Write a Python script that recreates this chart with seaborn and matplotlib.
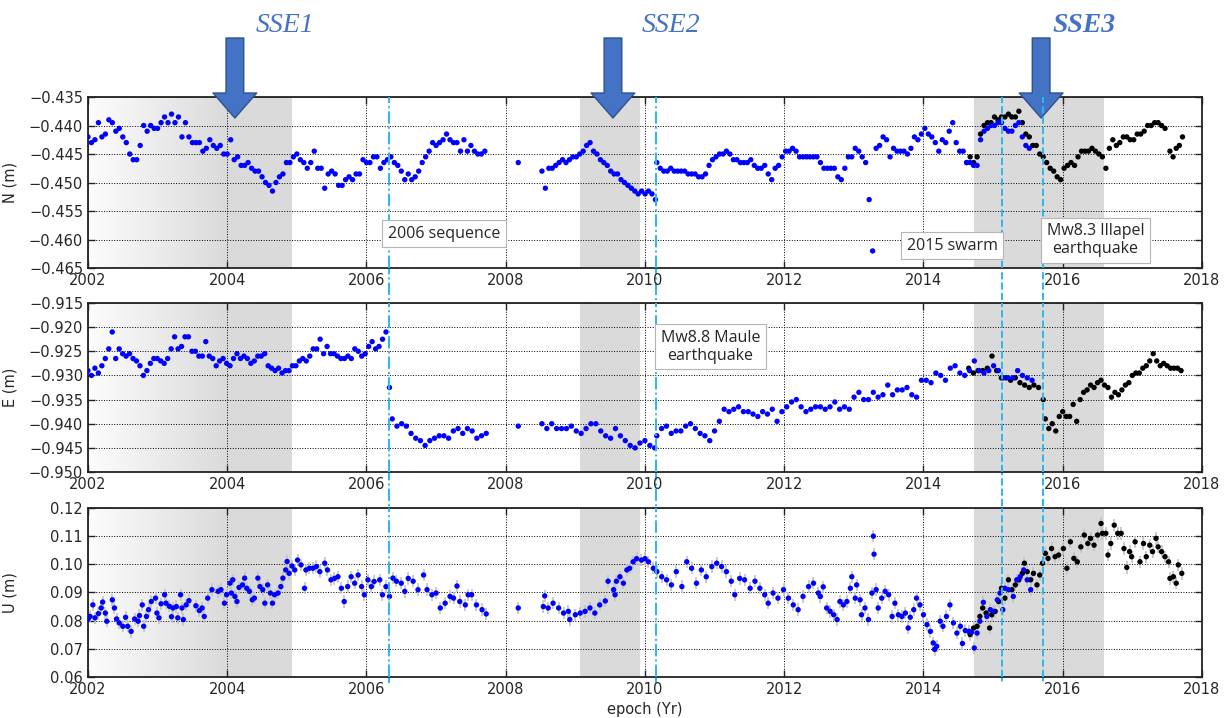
import numpy as np
import pandas as pd
import matplotlib
matplotlib.use("Agg")
import matplotlib.pyplot as plt
import matplotlib.transforms as mtransforms
from matplotlib.lines import Line2D
from matplotlib.colors import LinearSegmentedColormap
from matplotlib.ticker import FuncFormatter
import seaborn as sns

# ---- North component (mm), weekly-ish sampling ----
# segments: (first epoch, last epoch, values)
n_blue_a_span = (2002.00, 2007.70)
n_blue_a = [
    -442, -443, -442.5, -439.5, -442, -441.5, -439, -439.5, -441, -440.5,
    -442, -443, -445, -446, -446, -443.5, -440, -441, -440, -440.5,
    -440.5, -439.5, -438.5, -439.5, -438, -439.5, -438.5, -442, -439.5, -442,
    -443, -443, -443, -444.5, -444, -442.5, -443.5, -444, -443.5, -445,
    -445, -442.5, -446, -445.5, -447, -447, -446.5, -447.5, -448, -448,
    -449, -450, -450.5, -451.5, -450, -449, -448.5, -446.5, -446.5, -445.5,
    -445, -446, -446.5, -447.5, -446.5, -444.5, -447.5, -447.5, -451, -448.5,
    -448, -448.5, -450.5, -450.5, -449.5, -449, -449.5, -448.5, -448.5, -446,
    -446.5, -446.5, -445.5, -445.5, -447.5, -446.5, -446, -445.5, -446.5, -447,
    -448, -449.5, -448.5, -449.5, -449, -448, -446.5, -445.5, -444.5, -443,
    -443.5, -443, -442.5, -441.5, -442.5, -443, -443, -444.5, -442.5, -444.5,
    -443.5, -444.5, -445, -445, -444.5]
n_blue_b_span = (2008.18, 2008.18)
n_blue_b = [-446.5]
n_blue_c_span = (2008.52, 2010.15)
n_blue_c = [
    -448, -451, -447.5, -447.5, -447, -446.5, -446, -446.5, -446, -445.5,
    -445.5, -445, -444.5, -443.5, -443, -444.5, -445, -446, -446.5, -447,
    -448, -448.5, -448.5, -449.5, -450, -450.5, -451, -451.5, -452, -451.5,
    -452, -451.5, -452, -453]
n_blue_d_span = (2010.17, 2015.52)
n_blue_d = [
    -446.5, -447.5, -448, -448, -447.5, -448, -448, -448, -448, -448.5,
    -448.5, -448.5, -449, -449, -448.5, -447, -446, -445.5, -445, -445,
    -444.5, -445, -446, -446, -446.5, -446.5, -446.5, -446, -447, -447.5,
    -447.5, -447, -448.5, -449.5, -447.5, -447, -445.5, -444.5, -444.5, -444,
    -444.5, -445.5, -445.5, -445.5, -445.5, -445.5, -445.5, -446.5, -447.5, -447.5,
    -447.5, -447.5, -449, -449.5, -447.5, -445.5, -445.5, -444, -444.5, -445.5,
    -446.5, -453, -462, -444, -443.5, -442, -442.5, -445.5, -444, -444.5,
    -444.5, -444.5, -445, -444, -442, -442.5, -441.5, -440.5, -441.5, -442,
    -443, -444.5, -442.5, -443, -441, -439.5, -443, -444.5, -444.5, -446.5,
    -446.5, -447, -447, -442.5, -441, -440.5, -440, -440, -439.5, -439.5,
    -440.5, -441, -441, -440, -439.5, -442, -443.5, -444]
n_black_a_span = (2014.62, 2017.47)
n_black_a = [
    -446.5, -445.5, -446.5, -445.5, -441.5, -440, -439.5, -439.5, -438.5, -439,
    -438.5, -438.5, -438, -438.5, -438.5, -437.5, -439.5, -441.5, -442, -443.5,
    -443.5, -445, -445.5, -446.5, -447.5, -448, -449, -449.5, -447.5, -447,
    -446.5, -447, -445.5, -444.5, -444.5, -444.5, -444, -444.5, -445, -445.5,
    -447.5, -444, -442.5, -443.5, -443, -442, -442, -442.5, -442.5, -441.5,
    -441.5, -441, -440, -440, -439.5, -439.5, -440, -440.5]
n_black_b_span = (2017.54, 2017.72)
n_black_b = [-444.5, -445.5, -444, -443.5, -442]

# ---- East component (mm) ----
e_blue_a_span = (2002.00, 2006.33)
e_blue_a = [
    -929, -930, -928.5, -929.5, -928, -926.5, -924.5, -921, -926.5, -924.5,
    -925.5, -926, -925.5, -926.5, -927, -928, -930, -929, -927.5, -926.5,
    -926.5, -927, -927.5, -926.5, -924.5, -922, -924.5, -924, -922, -922,
    -925, -925, -926, -926, -923, -926, -926.5, -928, -927, -926.5,
    -927.5, -928, -926.5, -925.5, -926.5, -926, -926.5, -927.5, -927, -926,
    -926, -925.5, -928, -928.5, -929, -928.5, -929.5, -929, -929, -928,
    -928, -927, -926.5, -927, -926, -924.5, -924.5, -922.5, -925.5, -924,
    -925.5, -925.5, -926, -926.5, -926.5, -926, -926.5, -924.5, -925, -926,
    -925.5, -924, -923, -924.5, -924, -922.5, -921, -932.5]
e_blue_b_span = (2006.37, 2007.72)
e_blue_b = [
    -939, -940.5, -940, -940.5, -942, -943, -943.5, -944.5, -943.5, -943,
    -942.5, -942.5, -943, -941.5, -941, -942, -941, -941.5, -943, -942.5, -942]
e_blue_c_span = (2008.18, 2008.18)
e_blue_c = [-940.5]
e_blue_d_span = (2008.52, 2010.14)
e_blue_d = [
    -940, -941, -940, -941, -941, -941, -940.5, -941.5, -942, -941,
    -940, -940, -941.5, -942.5, -943, -941, -942.5, -943.5, -944.5, -945,
    -944, -943.5, -944.5, -945]
e_blue_e_span = (2010.17, 2015.56)
e_blue_e = [
    -942.5, -941, -940.5, -942, -941.5, -941.5, -940.5, -940, -941, -942,
    -942.5, -943.5, -941.5, -939.5, -937, -937.5, -937, -936.5, -937.5, -937.5,
    -938, -938.5, -937.5, -938, -937, -939.5, -937.5, -936.5, -935.5, -935,
    -936.5, -937.5, -937, -936.5, -936.5, -937, -936.5, -935.5, -937, -936.5,
    -937, -934.5, -933.5, -935, -935, -933.5, -934.5, -934, -932, -934,
    -933, -933, -932.5, -934, -934.5, -931, -931, -931.5, -929.5, -930,
    -931, -928.5, -928, -929.5, -930, -929, -927, -929, -929.5, -929,
    -928, -929, -930.5, -930.5, -930.5, -929, -930, -930.5, -931]
e_black_a_span = (2014.65, 2015.72)
e_black_a = [
    -928.5, -929.5, -929, -929, -928.5, -926, -929, -930.5, -930.5, -931,
    -930.5, -931.5, -932, -932.5, -932, -932.5, -935]
e_black_b_span = (2015.75, 2017.70)
e_black_b = [
    -939, -941, -940, -941.5, -938.5, -937.5, -938.5, -938.5, -936, -939.5,
    -935, -933.5, -933, -932, -932.5, -931.5, -931, -932, -932.5, -934.5,
    -933.5, -934, -933, -932, -931.5, -930, -929.5, -929.5, -928.5, -928,
    -927, -925.5, -927, -928, -927.5, -928, -928.5, -928.5, -928.5, -929]

# ---- Up component (mm), epochs read individually ----
u_blue_t = [
    2002.00, 2002.03, 2002.07, 2002.10, 2002.15, 2002.19, 2002.21, 2002.25, 2002.27, 2002.35,
    2002.38, 2002.41, 2002.45, 2002.50, 2002.54, 2002.57, 2002.62, 2002.67, 2002.72, 2002.74,
    2002.78, 2002.80, 2002.84, 2002.87, 2002.91, 2002.97, 2002.99, 2003.02, 2003.05, 2003.10,
    2003.12, 2003.17, 2003.20, 2003.22, 2003.27, 2003.29, 2003.33, 2003.35, 2003.37, 2003.41,
    2003.45, 2003.55, 2003.60, 2003.64, 2003.67, 2003.72, 2003.78, 2003.87, 2003.91, 2003.96,
    2003.99, 2004.04, 2004.06, 2004.08, 2004.11, 2004.14, 2004.17, 2004.22, 2004.25, 2004.28,
    2004.32, 2004.36, 2004.39, 2004.44, 2004.47, 2004.51, 2004.54, 2004.58, 2004.62, 2004.65,
    2004.68, 2004.73, 2004.77, 2004.80, 2004.84, 2004.86, 2004.89, 2004.93, 2004.97, 2005.01,
    2005.06, 2005.11, 2005.13, 2005.18, 2005.23, 2005.28, 2005.33, 2005.40, 2005.44, 2005.49,
    2005.54, 2005.59, 2005.64, 2005.68, 2005.73, 2005.78, 2005.83, 2005.88, 2005.93, 2005.97,
    2006.02, 2006.07, 2006.11, 2006.19, 2006.23, 2006.28, 2006.33, 2006.38, 2006.43, 2006.50,
    2006.55, 2006.60, 2006.67, 2006.74, 2006.82, 2006.87, 2006.94, 2007.00, 2007.06, 2007.13,
    2007.20, 2007.25, 2007.30, 2007.34, 2007.42, 2007.46, 2007.51, 2007.58, 2007.66, 2007.72,
    2008.18,
    2008.54, 2008.56, 2008.61, 2008.68, 2008.76, 2008.83, 2008.90, 2008.92, 2009.00, 2009.07,
    2009.14, 2009.21, 2009.28, 2009.35, 2009.43, 2009.47, 2009.55, 2009.57, 2009.59, 2009.64,
    2009.69, 2009.74, 2009.78, 2009.83, 2009.88, 2009.95, 2010.00, 2010.05, 2010.12, 2010.17,
    2010.24, 2010.31, 2010.38, 2010.45, 2010.53, 2010.60, 2010.67, 2010.74, 2010.81, 2010.88,
    2010.96, 2011.03, 2011.10, 2011.17, 2011.24, 2011.29, 2011.36, 2011.43, 2011.51, 2011.58,
    2011.65, 2011.72, 2011.77, 2011.84, 2011.91, 2011.99, 2012.06, 2012.13, 2012.20, 2012.27,
    2012.35, 2012.42, 2012.49, 2012.52, 2012.56, 2012.61, 2012.66, 2012.71, 2012.76, 2012.80,
    2012.85, 2012.90, 2012.95, 2012.97, 2013.02, 2013.04, 2013.09, 2013.11, 2013.16, 2013.21,
    2013.26, 2013.28, 2013.29, 2013.32, 2013.35, 2013.40, 2013.45, 2013.50, 2013.55, 2013.59,
    2013.64, 2013.69, 2013.74, 2013.78, 2013.81, 2013.86, 2013.90, 2013.95, 2014.00, 2014.05,
    2014.10, 2014.14, 2014.16, 2014.19, 2014.24, 2014.28, 2014.33, 2014.38, 2014.43, 2014.48,
    2014.53, 2014.56, 2014.60, 2014.65, 2014.69, 2014.73, 2014.77, 2014.81, 2014.86, 2014.91,
    2014.96, 2015.00, 2015.06, 2015.10, 2015.14, 2015.17, 2015.22, 2015.29, 2015.34, 2015.39,
    2015.44, 2015.49, 2015.54]
u_blue = [
    80.5, 81.5, 85.6, 81.0, 82.5, 84.5, 86.6, 82.7, 79.8, 87.4,
    84.5, 80.6, 79.2, 78.0, 81.2, 78.0, 76.2, 80.6, 79.8, 81.8,
    85.6, 78.0, 81.5, 83.9, 86.8, 88.0, 82.7, 81.0, 86.0, 89.2,
    86.2, 85.1, 81.4, 84.5, 85.0, 81.0, 89.2, 84.5, 80.4, 85.6,
    87.1, 85.3, 83.6, 84.5, 81.5, 88.0, 91.0, 90.4, 91.0, 86.2,
    89.2, 93.3, 89.8, 94.5, 88.6, 86.8, 91.8, 92.7, 95.1, 91.5,
    90.4, 87.4, 88.0, 95.1, 92.1, 91.0, 86.2, 92.7, 89.8, 86.2,
    89.2, 89.8, 92.1, 95.1, 98.0, 101.0, 96.8, 99.4, 98.0, 101.5,
    99.8, 91.5, 98.0, 98.6, 98.6, 99.2, 97.4, 100.4, 98.0, 94.5,
    95.0, 95.6, 91.5, 86.8, 92.1, 95.6, 93.3, 96.2, 92.1, 89.2,
    94.5, 92.1, 93.9, 94.5, 89.2, 92.1, 88.6, 95.1, 94.0, 93.3,
    90.4, 95.0, 94.0, 91.0, 96.2, 91.0, 89.2, 89.8, 84.5, 86.2,
    88.6, 88.0, 92.3, 86.8, 85.6, 89.2, 89.2, 85.6, 83.9, 82.4,
    84.5,
    85.0, 88.8, 84.5, 86.2, 84.5, 82.7, 83.3, 80.4, 82.1, 82.7,
    83.3, 84.5, 82.7, 85.6, 87.0, 94.0, 91.0, 89.2, 94.0, 95.6,
    93.3, 98.0, 98.6, 100.9, 102.0, 101.5, 102.0, 100.9, 98.6, 97.4,
    95.6, 94.5, 92.7, 97.4, 92.1, 100.9, 98.6, 93.3, 98.0, 95.6,
    99.2, 100.4, 99.2, 97.4, 94.0, 89.2, 95.0, 94.5, 91.5, 94.0,
    91.5, 89.2, 86.2, 89.8, 88.0, 91.0, 88.0, 85.6, 83.9, 88.6,
    92.1, 93.3, 89.8, 88.6, 92.0, 84.5, 83.3, 82.1, 80.4, 86.8,
    85.6, 86.8, 91.5, 95.6, 88.0, 92.7, 87.4, 82.1, 84.5, 80.4,
    89.8, 110.0, 103.6, 91.0, 84.5, 88.0, 90.4, 89.2, 81.5, 86.2,
    82.1, 81.5, 82.7, 77.4, 81.2, 83.9, 88.0, 85.6, 82.1, 78.6,
    76.2, 72.1, 69.8, 70.9, 79.8, 78.0, 81.5, 85.6, 79.2, 75.6,
    78.0, 71.9, 76.5, 76.2, 75.9, 70.3, 75.6, 79.8, 86.5, 81.5,
    83.9, 83.3, 87.4, 89.8, 83.9, 91.5, 91.0, 88.6, 94.5, 95.6,
    98.0, 94.5, 91.0]
u_black_t = [
    2014.67, 2014.72, 2014.77, 2014.81, 2014.85, 2014.90, 2014.95, 2014.98, 2015.03, 2015.08,
    2015.12, 2015.17, 2015.22, 2015.27, 2015.32, 2015.37, 2015.42, 2015.45, 2015.49, 2015.54,
    2015.58, 2015.63, 2015.67, 2015.71, 2015.75, 2015.79, 2015.84, 2015.89, 2015.94, 2016.01,
    2016.06, 2016.11, 2016.16, 2016.21, 2016.26, 2016.31, 2016.36, 2016.40, 2016.45, 2016.50,
    2016.55, 2016.57, 2016.62, 2016.65, 2016.69, 2016.74, 2016.79, 2016.84, 2016.88, 2016.92,
    2016.96, 2016.99, 2017.04, 2017.11, 2017.16, 2017.20, 2017.25, 2017.29, 2017.34, 2017.37,
    2017.42, 2017.47, 2017.52, 2017.54, 2017.59, 2017.63, 2017.66, 2017.71]
u_black = [
    75.1, 77.4, 78.0, 81.5, 84.5, 82.7, 77.4, 82.1, 83.3, 86.8,
    91.5, 88.0, 94.5, 91.0, 92.7, 94.5, 96.8, 100.4, 97.4, 94.5,
    96.8, 92.7, 96.2, 100.4, 103.9, 102.1, 105.6, 102.7, 103.3, 105.6,
    98.6, 108.0, 102.1, 100.9, 106.2, 110.4, 107.4, 109.2, 106.8, 110.4,
    114.5, 111.0, 111.0, 103.3, 107.4, 113.9, 111.0, 111.0, 105.6, 98.9,
    104.5, 102.7, 108.0, 100.9, 107.4, 102.7, 106.8, 104.5, 109.2, 106.2,
    104.5, 102.7, 100.9, 95.0, 95.6, 93.3, 99.8, 96.8]
u_sigma = 2.2  # mm, typical vertical error bar

# ---- events ----
sse_epochs = [2004.11, 2009.54, 2015.69]
sse_labels = ["SSE1", "SSE2", "SSE3"]
sse_label_epochs = [2004.83, 2010.38, 2016.30]
event_epochs = [2006.32, 2010.16, 2015.13, 2015.72]
event_styles = ["-.", "-.", "--", "--"]
shade_spans = [(2004.0, 2004.93), (2009.07, 2009.93), (2014.73, 2016.60)]
gradient_span = (2002.0, 2004.0)


def seg(span, values, solution):
    t = np.linspace(span[0], span[1], len(values))
    return pd.DataFrame({"epoch": t, "value": np.asarray(values, float) / 1000.0,
                         "solution": solution})


n_df = pd.concat([
    seg(n_black_a_span, n_black_a, "new"), seg(n_black_b_span, n_black_b, "new"),
    seg(n_blue_a_span, n_blue_a, "old"), seg(n_blue_b_span, n_blue_b, "old"),
    seg(n_blue_c_span, n_blue_c, "old"), seg(n_blue_d_span, n_blue_d, "old"),
], ignore_index=True)
e_df = pd.concat([
    seg(e_black_a_span, e_black_a, "new"), seg(e_black_b_span, e_black_b, "new"),
    seg(e_blue_a_span, e_blue_a, "old"), seg(e_blue_b_span, e_blue_b, "old"),
    seg(e_blue_c_span, e_blue_c, "old"), seg(e_blue_d_span, e_blue_d, "old"),
    seg(e_blue_e_span, e_blue_e, "old"),
], ignore_index=True)
u_df = pd.concat([
    pd.DataFrame({"epoch": u_black_t, "value": np.array(u_black) / 1000.0, "solution": "new"}),
    pd.DataFrame({"epoch": u_blue_t, "value": np.array(u_blue) / 1000.0, "solution": "old"}),
], ignore_index=True)

sns.set_style("ticks")
plt.rcParams["font.family"] = ["DejaVu Sans"]
plt.rcParams["xtick.direction"] = "in"
plt.rcParams["ytick.direction"] = "in"
plt.rcParams["xtick.top"] = True
plt.rcParams["ytick.right"] = True

fig = plt.figure(figsize=(12.27, 7.18), dpi=100)
rects = [[0.0717, 0.6267, 0.9079, 0.2382],
         [0.0717, 0.3426, 0.9079, 0.2354],
         [0.0717, 0.0571, 0.9079, 0.2354]]
axes = [fig.add_axes(r) for r in rects]
ax_n, ax_e, ax_u = axes

panels = [
    (ax_n, n_df, "N (m)", (-0.465, -0.435), np.arange(-0.465, -0.4349, 0.005), "{:.3f}"),
    (ax_e, e_df, "E (m)", (-0.950, -0.915), np.arange(-0.950, -0.9149, 0.005), "{:.3f}"),
    (ax_u, u_df, "U (m)", (0.06, 0.12), np.arange(0.06, 0.1201, 0.01), "{:.2f}"),
]

shade = "#dadada"
grad_cmap = LinearSegmentedColormap.from_list("fade", ["#fdfdfd", shade])
palette = {"old": "#0000ff", "new": "#000000"}

for ax, df, ylabel, ylim, yticks, fmt in panels:
    ax.imshow(np.linspace(0, 1, 256).reshape(1, -1), cmap=grad_cmap, aspect="auto",
              extent=[gradient_span[0], gradient_span[1], ylim[0], ylim[1]], zorder=0)
    for s0, s1 in shade_spans:
        ax.axvspan(s0, s1, color=shade, lw=0, zorder=0)
    if ax is ax_u:
        ax.vlines(df["epoch"], df["value"] - u_sigma / 1000, df["value"] + u_sigma / 1000,
                  color="#c4c4c4", lw=1.2, zorder=2)
    sns.scatterplot(data=df, x="epoch", y="value", hue="solution", palette=palette,
                    s=15, linewidth=0, legend=False, ax=ax, zorder=3)
    for ep, ls in zip(event_epochs, event_styles):
        ax.axvline(ep, color="#27b9ef", lw=1.4, ls=ls, zorder=4)
    ax.set_xlim(2002, 2018)
    ax.set_ylim(*ylim)
    ax.set_xticks(np.arange(2002, 2019, 2))
    ax.set_yticks(yticks)
    ax.yaxis.set_major_formatter(FuncFormatter(lambda v, p, f=fmt: f.format(v).replace("-", "\u2212")))
    ax.xaxis.set_major_formatter(FuncFormatter(lambda v, p: f"{v:.0f}"))
    ax.tick_params(labelsize=10.5, length=5, width=1, color="#222222")
    ax.grid(True, ls=":", color="black", lw=0.7)
    ax.set_axisbelow(True)
    for sp in ax.spines.values():
        sp.set_color("#222222")
        sp.set_linewidth(1.3)
    ax.set_ylabel(ylabel, fontsize=10.5)
    ax.yaxis.set_label_coords(-0.063, 0.5)
    ax.set_xlabel("")

ax_u.set_xlabel("epoch (Yr)", fontsize=10.5)
ax_u.xaxis.set_label_coords(0.5, -0.15)

# event lines continue through the gaps between panels
blend = mtransforms.blended_transform_factory(ax_u.transData, fig.transFigure)
for ep, ls in zip(event_epochs, event_styles):
    fig.add_artist(Line2D([ep, ep], [1 - 97 / 718, 1 - 683 / 718], transform=blend,
                          color="#27b9ef", lw=1.4, ls=ls, zorder=-1))

# annotation boxes
box = dict(boxstyle="square,pad=0.35", fc="white", ec="#b5b5b5", lw=0.8)
tfont = dict(family=["Open Sans", "DejaVu Sans"], fontsize=11.5, zorder=6, bbox=box)
ax_n.text(2006.31, -0.4590, "2006 sequence", ha="left", va="center", **tfont)
ax_n.text(2013.76, -0.4611, "2015 swarm", ha="left", va="center", **tfont)
ax_n.text(2016.47, -0.4601, "Mw8.3 Illapel\nearthquake", ha="center", va="center",
          linespacing=1.15, **tfont)
ax_e.text(2010.94, -0.9241, "Mw8.8 Maule\nearthquake", ha="center", va="center",
          linespacing=1.15, **tfont)

# SSE arrows and labels above the top panel
for ep, lab, lep in zip(sse_epochs, sse_labels, sse_label_epochs):
    ax_n.annotate("", xy=(ep, 600), xycoords=("data", "figure pixels"),
                  xytext=(ep, 680), textcoords=("data", "figure pixels"),
                  arrowprops=dict(arrowstyle="simple,head_length=1.2,head_width=2.1,tail_width=0.85",
                                  fc="#4472C4", ec="#2F528F", lw=1, shrinkA=0, shrinkB=0,
                                  mutation_scale=15),
                  annotation_clip=False)
    ax_n.annotate(lab, xy=(lep, 692), xycoords=("data", "figure pixels"),
                  ha="center", va="center", fontsize=20, style="italic",
                  weight="bold" if lab == "SSE3" else "normal",
                  family=["Liberation Serif", "DejaVu Serif"], color="#4472C4",
                  annotation_clip=False)

fig.savefig("out.png", dpi=100)
